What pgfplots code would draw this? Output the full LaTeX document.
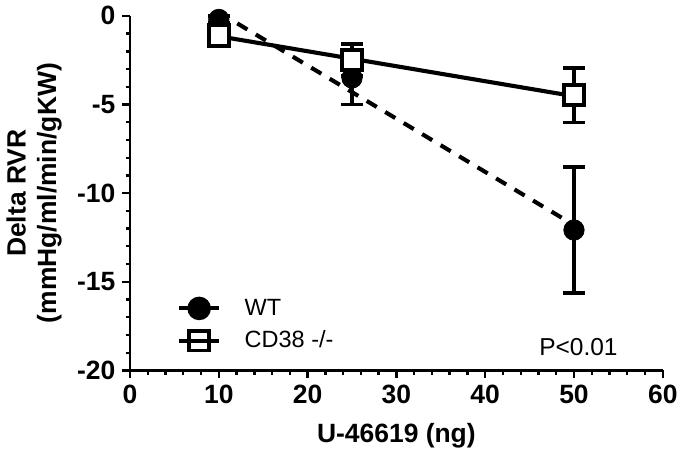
\documentclass[border=0pt]{standalone}
\usepackage{fontspec}
\setmainfont{Liberation Sans}
\usepackage{pgfplots}
\pgfplotsset{compat=1.18}

\begin{document}
\begin{tikzpicture}
\begin{axis}[
    scale only axis,
    width=272pt, height=181pt,
    xmin=0, xmax=60, ymin=-20, ymax=0,
    axis lines*=left,
    axis line style={line width=1.5pt},
    clip=false,
    xtick={0,10,...,60}, ytick={-20,-15,...,0},
    minor x tick num=4, minor y tick num=4,
    tick align=outside,
    major tick length=4pt, minor tick length=2.2pt,
    every tick/.style={line width=1.2pt, black},
    /pgf/number format/assume math mode=true,
    tick label style={font=\fontsize{13.5}{15}\selectfont\bfseries},
    xlabel={U-46619 (ng)},
    ylabel={Delta RVR\\(mmHg/ml/min/gKW)},
    ylabel style={align=center, font=\fontsize{13.5}{15.5}\selectfont\bfseries, yshift=1pt},
    xlabel style={font=\fontsize{13.5}{15}\selectfont\bfseries, yshift=-3pt},
    legend style={at={(axis cs:4.6,-15.5)}, anchor=north west, draw=none, fill=none,
        font=\fontsize{12}{14}\selectfont, row sep=2.5pt},
    legend cell align=left,
    legend image code/.code={
        \draw[#1, solid] (0cm,0cm) -- (0.72cm,0cm);
        \draw[#1, solid] plot coordinates {(0.36cm,0cm)};
    },
]
% legend entries
\addlegendimage{black, line width=2pt, mark=*, mark size=5pt}
\addlegendentry{\hspace{10pt}WT}
\addlegendimage{black, line width=2pt, mark=square, mark size=5pt, mark options={line width=2pt, fill=white}}
\addlegendentry{\hspace{10pt}CD38 -/-}

% regression lines
\addplot[black, line width=2.1pt, dash pattern=on 6pt off 5pt, forget plot] coordinates {(10,0.2) (50,-11.8)};
\addplot[black, line width=2.1pt, forget plot] coordinates {(10,-1.15) (50,-4.53)};

% WT mean +- SEM
\addplot[only marks, mark=*, mark size=5.2pt, black, forget plot,
    error bars/.cd, y dir=both, y explicit,
    error bar style={line width=1.9pt},
    error mark options={rotate=90, mark size=5.5pt, line width=1.9pt}]
    coordinates {
    (10,-0.2) +- (0,0.2)
    (25,-3.5) +- (0,1.5)
    (50,-12.08) +- (0,3.55)
    };

% CD38 -/- mean +- SEM
\addplot[only marks, mark=square*, mark size=5.2pt, black, fill=white,
    mark options={line width=2pt, fill=white}, forget plot,
    error bars/.cd, y dir=both, y explicit,
    error bar style={line width=1.9pt},
    error mark options={rotate=90, mark size=5.5pt, line width=1.9pt}]
    coordinates {
    (10,-1.1) +- (0,0.3)
    (25,-2.5) +- (0,0.9)
    (50,-4.47) +- (0,1.55)
    };

\node[font=\fontsize{12.5}{14}\selectfont] at (axis cs:50.5,-18.7) {P<0.01};
\end{axis}
\end{tikzpicture}
\end{document}
